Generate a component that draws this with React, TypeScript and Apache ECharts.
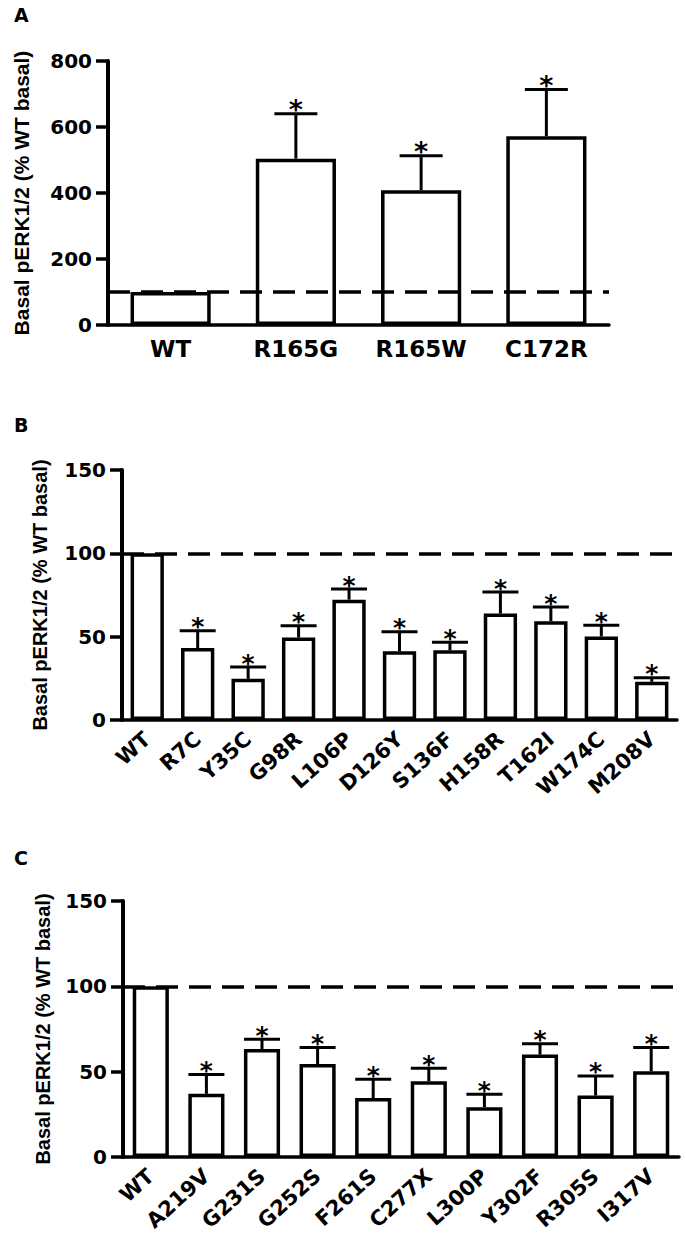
import React, { useEffect, useRef } from "react";
import * as echarts from "echarts";

const catsA = ["WT", "R165G", "R165W", "C172R"];
const meanA = [100, 504, 408, 572];
const semA = [null, 136, 105, 142];

const catsB = ["WT", "R7C", "Y35C", "G98R", "L106P", "D126Y", "S136F", "H158R", "T162I", "W174C", "M208V"];
const meanB = [100, 43.2, 24.7, 49.5, 72.2, 41.2, 41.8, 63.9, 59.3, 50.1, 22.9];
const semB = [null, 10.3, 7.1, 7.0, 6.4, 11.7, 4.9, 12.9, 8.5, 6.8, 2.4];

const catsC = ["WT", "A219V", "G231S", "G252S", "F261S", "C277X", "L300P", "Y302F", "R305S", "I317V"];
const meanC = [100, 37.0, 63.3, 54.5, 34.5, 44.4, 29.2, 60.0, 36.0, 50.3];
const semC = [null, 11.3, 5.7, 9.6, 11.1, 7.6, 7.6, 6.4, 11.5, 13.8];

const ticksA = { min: 0, max: 800, interval: 200 };
const ticksBC = { min: 0, max: 150, interval: 50 };
const baseline = 100;
const yName = "Basal pERK1/2 (% WT basal)";
const panelLetters = ["A", "B", "C"];

const BOLD = "DejaVu Sans";

function errorSeries(idx: number, means: number[], sems: (number | null)[], capW: number, starSize: number) {
  const data = means
    .map((m, i) => (sems[i] == null ? null : [i, m, m + (sems[i] as number)]))
    .filter((d) => d != null);
  return {
    type: "custom",
    xAxisIndex: idx,
    yAxisIndex: idx,
    z: 4,
    silent: true,
    data,
    renderItem: (params: any, api: any) => {
      const x = api.value(0);
      const top = api.coord([x, api.value(1)]);
      const up = api.coord([x, api.value(2)]);
      const cx = top[0];
      return {
        type: "group",
        children: [
          {
            type: "line",
            shape: { x1: cx, y1: top[1], x2: cx, y2: up[1] },
            style: { stroke: "#000", lineWidth: 3 },
          },
          {
            type: "line",
            shape: { x1: cx - capW / 2, y1: up[1], x2: cx + capW / 2, y2: up[1] },
            style: { stroke: "#000", lineWidth: 3 },
          },
          {
            type: "text",
            x: cx,
            y: up[1] - 4,
            style: {
              text: "*",
              fontSize: starSize,
              fontWeight: "bold",
              fontFamily: BOLD,
              fill: "#000",
              textAlign: "center",
              textVerticalAlign: "middle",
            },
          },
        ],
      };
    },
  };
}

function barSeries(idx: number, means: number[], width: string) {
  return {
    type: "bar",
    xAxisIndex: idx,
    yAxisIndex: idx,
    data: means,
    barWidth: width,
    z: 2,
    itemStyle: { color: "#fff", borderColor: "#000", borderWidth: 3.5 },
    markLine: {
      silent: true,
      symbol: "none",
      z: 5,
      label: { show: false },
      lineStyle: { color: "#000", width: 3.5, type: [22, 11] },
      data: [{ yAxis: baseline }],
    },
  };
}

export default function App() {
  const ref = useRef<HTMLDivElement>(null);
  useEffect(() => {
    if (!ref.current) return;
    const chart = echarts.init(ref.current, null, { renderer: "svg" });
    const grids = [
      { left: 108, top: 61, width: 501, height: 264, outerBoundsMode: "none", containLabel: false },
      { left: 122, top: 470, width: 555, height: 250, outerBoundsMode: "none", containLabel: false },
      { left: 123, top: 901, width: 556, height: 256, outerBoundsMode: "none", containLabel: false },
    ];
    const cats = [catsA, catsB, catsC];
    const xAxes = cats.map((c, i) => ({
      type: "category",
      gridIndex: i,
      data: c,
      axisLine: { lineStyle: { color: "#000", width: 3.5 } },
      axisTick: { alignWithLabel: true, length: 10, lineStyle: { color: "#000", width: 3.5 } },
      axisLabel:
        i === 0
          ? { color: "#000", fontFamily: BOLD, fontWeight: "bold", fontSize: 23, margin: 12 }
          : { color: "#000", fontFamily: BOLD, fontWeight: "bold", fontSize: 21, margin: 16, rotate: 42, interval: 0 },
    }));
    const yNameGaps = [76, 72, 70];
    const yAxes = [ticksA, ticksBC, ticksBC].map((t, i) => ({
      type: "value",
      gridIndex: i,
      min: t.min,
      max: t.max,
      interval: t.interval,
      name: yName,
      nameLocation: "middle",
      nameRotate: 90,
      nameGap: yNameGaps[i],
      nameMoveOverlap: false,
      nameTextStyle: { color: "#000", fontFamily: "Liberation Sans", fontWeight: "bold", fontSize: i === 0 ? 21 : 20 },
      splitLine: { show: false },
      axisLine: { show: true, lineStyle: { color: "#000", width: 4 } },
      axisTick: { show: true, length: 12, lineStyle: { color: "#000", width: 3.5 } },
      axisLabel: { color: "#000", fontFamily: BOLD, fontWeight: "bold", fontSize: 20, margin: 16 },
    }));
    const letterY = [15, 425, 858];
    chart.setOption({
      animation: false,
      backgroundColor: "#fff",
      grid: grids,
      xAxis: xAxes,
      yAxis: yAxes,
      graphic: panelLetters.map((l, i) => ({
        type: "text",
        left: 14,
        top: letterY[i] - 10,
        style: { text: l, fontFamily: BOLD, fontWeight: "bold", fontSize: 19, fill: "#000" },
      })),
      series: [
        barSeries(0, meanA, "64%"),
        errorSeries(0, meanA, semA, 43, 27),
        barSeries(1, meanB, "66%"),
        errorSeries(1, meanB, semB, 36, 25),
        barSeries(2, meanC, "65%"),
        errorSeries(2, meanC, semC, 36, 25),
      ],
    });
    return () => chart.dispose();
  }, []);
  return <div ref={ref} style={{ position: "absolute", left: 0, top: 0, width: 686, height: 1235 }} />;
}
